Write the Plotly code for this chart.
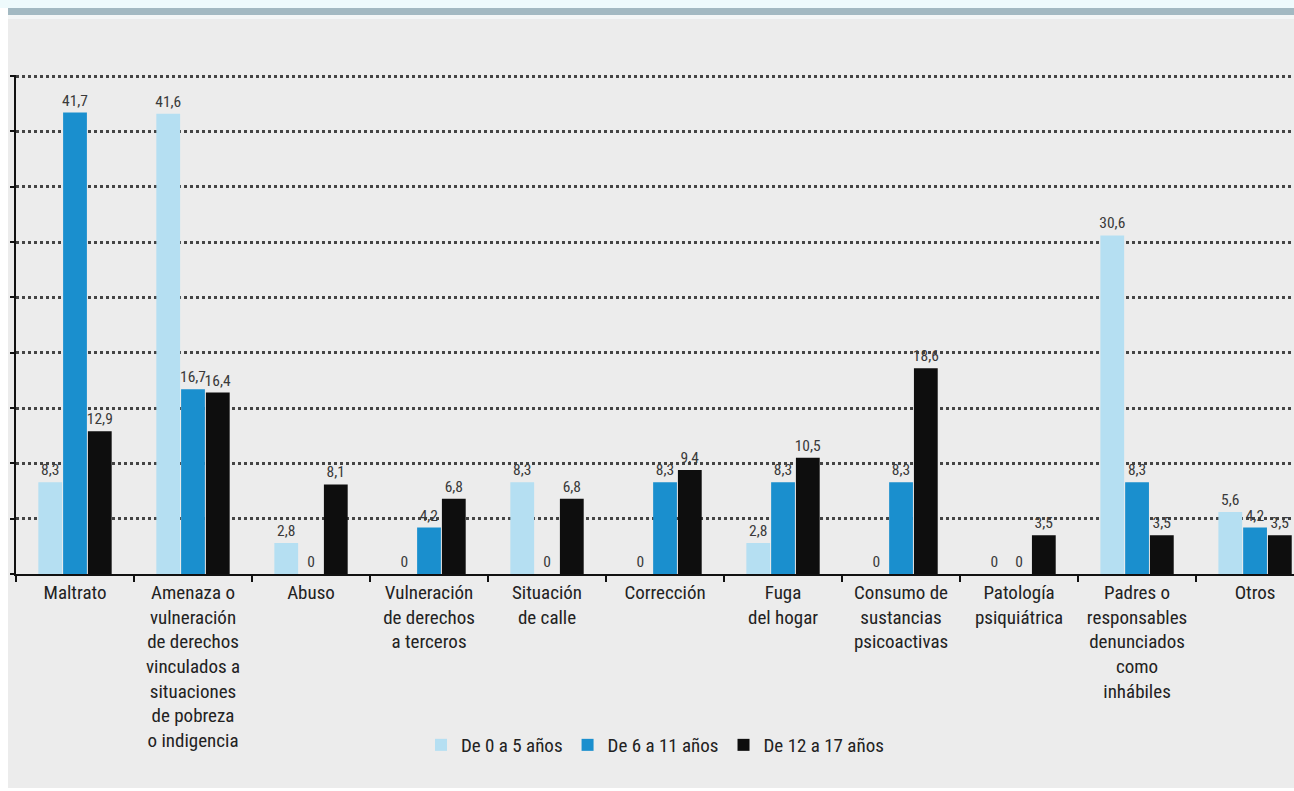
import plotly.graph_objects as go

categories = [
    "Maltrato",
    "Amenaza o<br>vulneración<br>de derechos<br>vinculados a<br>situaciones<br>de pobreza<br>o indigencia",
    "Abuso",
    "Vulneración<br>de derechos<br>a terceros",
    "Situación<br>de calle",
    "Corrección",
    "Fuga<br>del hogar",
    "Consumo de<br>sustancias<br>psicoactivas",
    "Patología<br>psiquiátrica",
    "Padres o<br>responsables<br>denunciados<br>como<br>inhábiles",
    "Otros",
]
series_names = ["De 0 a 5 años", "De 6 a 11 años", "De 12 a 17 años"]
age_0_5 = [8.3, 41.6, 2.8, 0, 8.3, 0, 2.8, 0, 0, 30.6, 5.6]
age_6_11 = [41.7, 16.7, 0, 4.2, 0, 8.3, 8.3, 8.3, 0, 8.3, 4.2]
age_12_17 = [12.9, 16.4, 8.1, 6.8, 6.8, 9.4, 10.5, 18.6, 3.5, 3.5, 3.5]
colors = ["#b5dff2", "#1a8fce", "#0e0e0e"]

FONT = "Liberation Sans Narrow, Roboto Condensed, Arial Narrow, Liberation Sans, sans-serif"


def fmt(v):
    return "0" if v == 0 else f"{v:.1f}".replace(".", ",")


fig = go.Figure()
for name, vals, col in zip(series_names, [age_0_5, age_6_11, age_12_17], colors):
    fig.add_trace(go.Bar(
        x=categories, y=vals, name=name,
        marker=dict(color=col, line=dict(width=0)),
        text=[fmt(v) for v in vals],
        textposition="outside",
        constraintext="none",
        textfont=dict(family=FONT, size=15.5, color="#3a3a3a"),
        cliponaxis=False,
    ))

W, H = 1294, 791
L, R, T, B = 16, 0, 75, 217
pw = W - L - R
ph = H - T - B


def px_x(x):
    return (x - L) / pw


def px_y(y):
    return (H - B - y) / ph


shapes = [
    # gray panel
    dict(type="rect", xref="paper", yref="paper", layer="below",
         x0=px_x(8), x1=px_x(1300), y0=px_y(788), y1=px_y(19),
         fillcolor="#ececec", line=dict(width=0)),
    # pale strip under band
    dict(type="rect", xref="paper", yref="paper", layer="below",
         x0=px_x(8), x1=px_x(1300), y0=px_y(19), y1=px_y(15),
         fillcolor="#f4f6f6", line=dict(width=0)),
    # light cyan strip at top
    dict(type="rect", xref="paper", yref="paper", layer="below",
         x0=px_x(0), x1=px_x(1300), y0=px_y(8), y1=px_y(-5),
         fillcolor="#eefafc", line=dict(width=0)),
    # top band line
    dict(type="rect", xref="paper", yref="paper", layer="below",
         x0=px_x(8), x1=px_x(1300), y0=px_y(15), y1=px_y(8),
         fillcolor="#a3b9c2", line=dict(width=0)),
]

fig.update_layout(
    width=W, height=H,
    margin=dict(l=L, r=R, t=T, b=B, pad=0),
    paper_bgcolor="white",
    plot_bgcolor="#ececec",
    barmode="group",
    bargap=0.37,
    bargroupgap=0.04,
    font=dict(family=FONT, size=19, color="#222222"),
    shapes=shapes,
    showlegend=True,
    legend=dict(orientation="h", x=0.5, xanchor="center", y=px_y(745), yanchor="middle",
                bgcolor="rgba(0,0,0,0)", font=dict(family=FONT, size=19, color="#222222"),
                traceorder="normal"),
    xaxis=dict(
        type="category",
        range=[-0.5, 10.33],
        showline=True, linecolor="#111111", linewidth=2,
        ticks="outside", tickson="boundaries", ticklen=6, tickcolor="#111111", tickwidth=2,
        tickfont=dict(family=FONT, size=19, color="#222222"),
        showgrid=False,
    ),
    yaxis=dict(
        range=[0, 45.1],
        dtick=5,
        showticklabels=False,
        showline=True, linecolor="#111111", linewidth=2,
        ticks="outside", ticklen=4, tickcolor="#111111", tickwidth=2,
        showgrid=True, gridcolor="#444444", gridwidth=2.5, griddash="dot",
        zeroline=False,
    ),
)

fig.write_html("out.html")
